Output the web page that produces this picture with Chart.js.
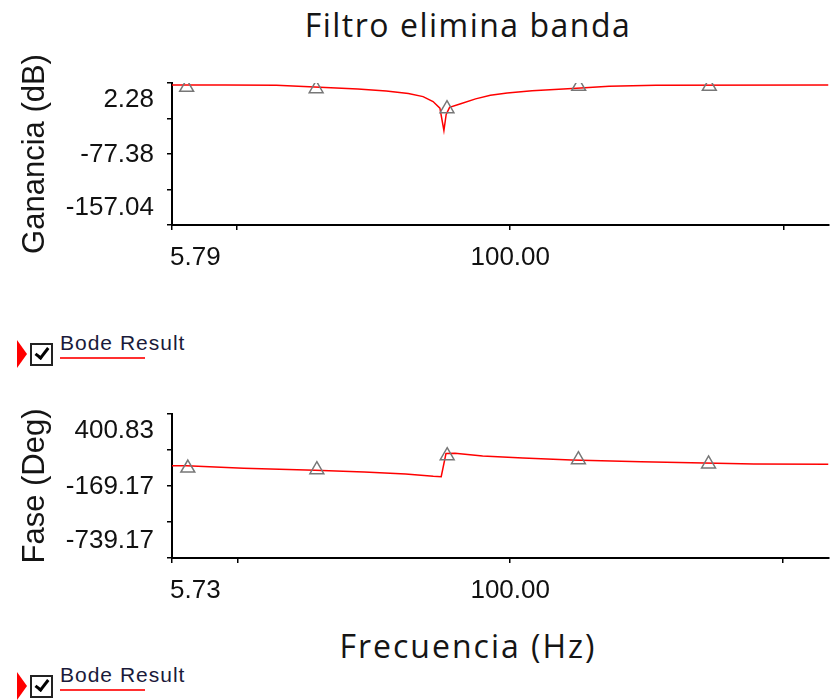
<!DOCTYPE html>
<html>
<head>
<meta charset="utf-8">
<script src="https://cdn.jsdelivr.net/npm/chart.js@4.4.0/dist/chart.umd.min.js"></script>
<style>
	body { margin: 0; background: #fff; width: 838px; height: 700px; overflow: hidden; position: relative; }
	.caja { position: absolute; left: 0; width: 838px; height: 300px; }
	.texto { position: absolute; white-space: nowrap; font-family: "Open Sans", sans-serif; font-size: 32px; line-height: 32px; color: #151515; transform: translateX(-50%); }
	#titulo { left: 468px; top: 9px; letter-spacing: 1.5px; }
	#tituloX { left: 468px; top: 630px; letter-spacing: 2px; }
	.leyenda { position: absolute; left: 0; width: 200px; height: 40px; }
	.flecha { position: absolute; left: 17px; top: 7px; width: 0; height: 0; border-top: 14px solid transparent; border-bottom: 14px solid transparent; border-left: 10px solid #ff0000; }
	.check { position: absolute; left: 30px; top: 10px; width: 19px; height: 19px; border: 2px solid #222; background: #fff; }
	.check:after { content: ''; position: absolute; left: 6px; top: 0px; width: 5px; height: 11px; border: solid #000; border-width: 0 3px 3px 0; transform: rotate(38deg); }
	.nombre { position: absolute; left: 60px; top: -1px; font-family: "Liberation Sans", Arial, sans-serif; font-size: 21px; line-height: 21px; letter-spacing: 1px; color: #1a1a3a; }
	.linea { position: absolute; left: 60px; top: 24px; width: 85px; height: 2px; background: #ff3030; }
</style>
</head>
<body>
<div id="titulo" class="texto">Filtro elimina banda</div>
<div class="caja" style="top:0"><canvas id="graficoGanancia" width="838" height="300"></canvas></div>
<div class="leyenda" style="top:333px"><span class="flecha"></span><span class="check"></span><span class="nombre">Bode Result</span><span class="linea"></span></div>
<div class="caja" style="top:320px"><canvas id="graficoFase" width="838" height="300"></canvas></div>
<div id="tituloX" class="texto">Frecuencia (Hz)</div>
<div class="leyenda" style="top:665px"><span class="flecha"></span><span class="check"></span><span class="nombre">Bode Result</span><span class="linea"></span></div>

<script>
// datos (Hz, dB, grados)
var frecGanancia = [5.79, 9.05, 13.96, 18.4, 27.7, 35.2, 42.4, 48.0, 52.2, 55.3, 57.2, 58.3, 60.0, 65.9, 74.7, 84.6, 97.5, 120.2, 175, 230, 341, 1460];
var ganancia = [0, 0, -0.3, -1.8, -4.4, -6.8, -9.5, -13, -18.5, -26, -51, -33, -25, -21, -15.5, -11.5, -9, -6.5, -3.6, -1.5, -0.3, 0];

var frecFase = [5.73, 6.48, 10.5, 19.2, 29.1, 41.3, 52.2, 55.8, 58.1, 62.7, 79.2, 111.4, 167.7, 303, 785, 1475];
var fase = [-8.5, -8.5, -29, -45, -58, -74, -92, -95, 88, 90, 68, 52, 37, 23, 5, 4];

var frecMarcas = [6.55, 19.5, 58.7, 178, 535];
var gananciaMarcas = [-2.5, -4.1, -26.5, -1.4, -1.4];
var faseMarcas = [-26.7, -40, 70.7, 39, 5];

var ticksGanancia = [2.28, -37.55, -77.38, -117.21, -157.04];
var etiquetasGanancia = [2.28, -77.38, -157.04];
var ticksFase = [400.83, 115.83, -169.17, -454.17, -739.17];
var etiquetasFase = [400.83, -169.17, -739.17];
var ticksFrecGanancia = [5.79, 10, 100, 1000];
var ticksFrecFase = [5.73, 10, 100, 1000];
var etiquetasFrecGanancia = [5.79, 100];
var etiquetasFrecFase = [5.73, 100];

var fuenteEje = '26px "Liberation Sans", Arial, sans-serif';

function juntar(xs, ys) {
	return xs.map(function(x, i) { return { x: x, y: ys[i] }; });
}

// etiquetas de los ejes como las pone el grapher: la primera y la ultima hacia dentro
var etiquetasEjes = {
	id: 'etiquetasEjes',
	afterDraw: function(chart, args, opts) {
		var ctx = chart.ctx;
		var ex = chart.scales.x;
		var ey = chart.scales.y;
		ctx.save();
		ctx.font = fuenteEje;
		ctx.fillStyle = '#111';
		ctx.textBaseline = 'middle';
		ctx.textAlign = 'right';
		opts.y.forEach(function(v) {
			var py = ey.getPixelForValue(v);
			if (v === ey.max) py += 17;
			else if (v === ey.min) py -= 17;
			else py += 1;
			ctx.fillText(v.toFixed(2), 154, py);
		});
		opts.x.forEach(function(v) {
			var px = ex.getPixelForValue(v);
			if (v === ex.min) {
				ctx.textAlign = 'left';
				px -= 2;
			} else {
				ctx.textAlign = 'center';
			}
			ctx.fillText(v.toFixed(2), px, ex.top + 33);
		});
		ctx.restore();
	}
};

function crearGrafico(id, p) {
	var ctx = document.getElementById(id).getContext('2d');
	return new Chart(ctx, {
		type: 'line',
		data: {
			datasets: [{
				data: juntar(frecMarcas, p.marcas),
				showLine: false,
				pointStyle: 'triangle',
				pointRadius: 8,
				borderColor: '#777',
				borderWidth: 1.5,
				backgroundColor: 'rgba(0,0,0,0)'
			}, {
				data: juntar(p.frec, p.valores),
				borderColor: '#ff0000',
				borderWidth: 1.5,
				pointRadius: 0,
				tension: 0,
				fill: false
			}]
		},
		options: {
			responsive: false,
			animation: false,
			layout: { padding: { top: p.arriba, left: 0, right: 0, bottom: 0 } },
			plugins: {
				legend: { display: false },
				tooltip: { enabled: false },
				etiquetasEjes: { x: p.etiquetasX, y: p.etiquetasY }
			},
			scales: {
				x: {
					type: 'logarithmic',
					min: p.frec[0],
					max: p.frec[p.frec.length - 1],
					afterBuildTicks: function(s) { s.ticks = p.ticksX.map(function(v) { return { value: v }; }); },
					afterFit: function(s) { s.height = p.altoX; },
					ticks: { display: false },
					grid: { drawOnChartArea: false, drawTicks: true, tickLength: 5, color: '#000', lineWidth: 1.5 },
					border: { display: true, color: '#000', width: 2 }
				},
				y: {
					min: p.ticksY[p.ticksY.length - 1],
					max: p.ticksY[0],
					afterBuildTicks: function(s) { s.ticks = p.ticksY.map(function(v) { return { value: v }; }); },
					afterFit: function(s) { s.width = 172; },
					ticks: { display: false },
					grid: { drawOnChartArea: false, drawTicks: true, tickLength: 5, color: '#000', lineWidth: 1.5 },
					border: { display: true, color: '#000', width: 2 },
					title: {
						display: true,
						text: p.titulo,
						color: '#151515',
						font: { family: '"Liberation Sans", Arial, sans-serif', size: 31 },
						padding: { top: 17, bottom: 0 }
					}
				}
			}
		},
		plugins: [etiquetasEjes]
	});
}

crearGrafico('graficoGanancia', {
	frec: frecGanancia, valores: ganancia, marcas: gananciaMarcas,
	ticksX: ticksFrecGanancia, ticksY: ticksGanancia,
	etiquetasX: etiquetasFrecGanancia, etiquetasY: etiquetasGanancia,
	titulo: 'Ganancia (dB)', arriba: 83, altoX: 75
});

crearGrafico('graficoFase', {
	frec: frecFase, valores: fase, marcas: faseMarcas,
	ticksX: ticksFrecFase, ticksY: ticksFase,
	etiquetasX: etiquetasFrecFase, etiquetasY: etiquetasFase,
	titulo: 'Fase (Deg)', arriba: 94, altoX: 62
});
</script>
</body>
</html>
